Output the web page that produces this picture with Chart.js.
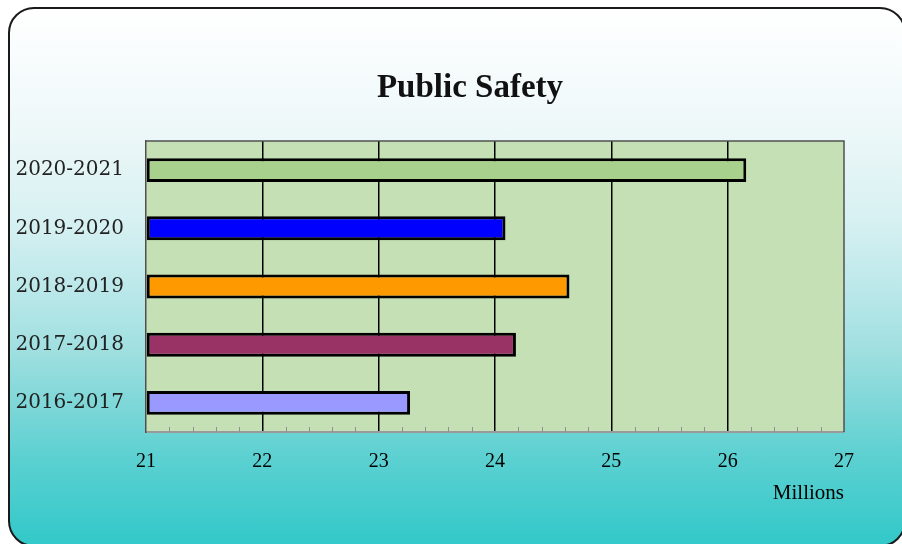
<!DOCTYPE html>
<html>
<head>
<meta charset="utf-8">
<title>Public Safety</title>
<script src="https://cdn.jsdelivr.net/npm/chart.js@4"></script>
<style>
  html, body { margin: 0; padding: 0; width: 902px; height: 544px; overflow: hidden; background: #ffffff; }
  #panel {
    position: absolute; left: 8px; top: 7px; width: 898px; height: 540px;
    box-sizing: border-box; border: 2px solid #1a1a1a; border-radius: 26px;
    background: linear-gradient(to bottom,
      #ffffff 0%, #eef8f9 22%, #d6f0f1 40%, #bce8ea 52%,
      #9fdfe0 64%, #7ad6d7 75%, #5bd0d1 84%, #32c8c9 100%);
  }
  #c { position: absolute; left: 0; top: 0; }
</style>
</head>
<body>
<div id="panel"></div>
<canvas id="c" width="902" height="544"></canvas>
<script>
// Public safety budget by fiscal year, in millions
const categories = ['2020-2021', '2019-2020', '2018-2019', '2017-2018', '2016-2017'];
const spending = [26.16, 24.09, 24.64, 24.18, 23.27];
const barColors = ['#a9d18e', '#0000ff', '#ff9900', '#993366', '#9999ff'];
const axisMin = 21;
const axisMax = 27;
const minorStep = 0.2;
const chartTitle = 'Public Safety';
const unitLabel = 'Millions';

// Green plot area behind grid and bars
const plotBackground = {
  id: 'plotBackground',
  beforeDraw(chart) {
    const { ctx, chartArea: a } = chart;
    ctx.save();
    ctx.fillStyle = '#c5e0b4';
    ctx.fillRect(a.left, a.top, a.right - a.left, a.bottom - a.top);
    ctx.restore();
  }
};

// Top/right frame lines and small minor ticks along the bottom axis
const plotFrame = {
  id: 'plotFrame',
  beforeDatasetsDraw(chart) {
    const { ctx, chartArea: a, scales } = chart;
    const x = scales.x;
    ctx.save();
    ctx.strokeStyle = '#8f8f8f';
    ctx.lineWidth = 1;
    const n = Math.round((axisMax - axisMin) / minorStep);
    for (let i = 1; i < n; i++) {
      const v = axisMin + i * minorStep;
      if (Math.abs(v - Math.round(v)) < 1e-6) continue;
      const px = Math.round(x.getPixelForValue(v)) + 0.5;
      ctx.beginPath();
      ctx.moveTo(px, a.bottom);
      ctx.lineTo(px, a.bottom - 5);
      ctx.stroke();
    }
    ctx.strokeStyle = '#505050';
    ctx.lineWidth = 1.5;
    ctx.beginPath();
    ctx.moveTo(a.left, a.top);
    ctx.lineTo(a.right, a.top);
    ctx.lineTo(a.right, a.bottom);
    ctx.stroke();
    ctx.restore();
  }
};

// Chart heading
const headingText = {
  id: 'headingText',
  afterDraw(chart) {
    const { ctx } = chart;
    ctx.save();
    ctx.font = 'bold 33px "Liberation Serif", serif';
    ctx.fillStyle = '#111111';
    ctx.textAlign = 'center';
    ctx.textBaseline = 'alphabetic';
    ctx.fillText(chartTitle, 470, 97);
    ctx.restore();
  }
};

new Chart(document.getElementById('c'), {
  type: 'bar',
  data: {
    labels: categories,
    datasets: [{
      data: spending,
      base: axisMin,
      backgroundColor: barColors,
      borderColor: '#000000',
      borderWidth: 3,
      borderSkipped: false,
      barPercentage: 0.41,
      categoryPercentage: 1.0
    }]
  },
  options: {
    indexAxis: 'y',
    responsive: false,
    animation: false,
    devicePixelRatio: 1,
    layout: { padding: { left: 10, right: 58, top: 141, bottom: 0 } },
    plugins: {
      legend: { display: false },
      title: { display: false },
      tooltip: { enabled: false }
    },
    scales: {
      x: {
        type: 'linear',
        min: axisMin,
        max: axisMax,
        afterFit(scale) { scale.height = 112; },
        ticks: {
          stepSize: 1,
          padding: 18,
          color: '#000000',
          font: { family: '"Liberation Serif", serif', size: 20 }
        },
        grid: {
          drawTicks: false,
          lineWidth: 1.5,
          color(ctx) {
            const v = ctx.tick ? ctx.tick.value : null;
            return (v === axisMin || v === axisMax) ? 'rgba(0,0,0,0)' : '#000000';
          }
        },
        border: { display: true, color: '#9a9a9a', width: 2 },
        title: {
          display: true,
          text: unitLabel,
          align: 'end',
          color: '#000000',
          font: { family: '"Liberation Serif", serif', size: 21 },
          padding: { top: 0, bottom: 38 }
        }
      },
      y: {
        type: 'category',
        afterFit(scale) { scale.width = 136; },
        ticks: {
          padding: 22,
          color: '#222222',
          font: { family: '"DejaVu Serif", serif', size: 20 }
        },
        grid: { display: false, drawTicks: false },
        border: { display: true, color: '#505050', width: 1.5 }
      }
    }
  },
  plugins: [plotBackground, plotFrame, headingText]
});
</script>
</body>
</html>
